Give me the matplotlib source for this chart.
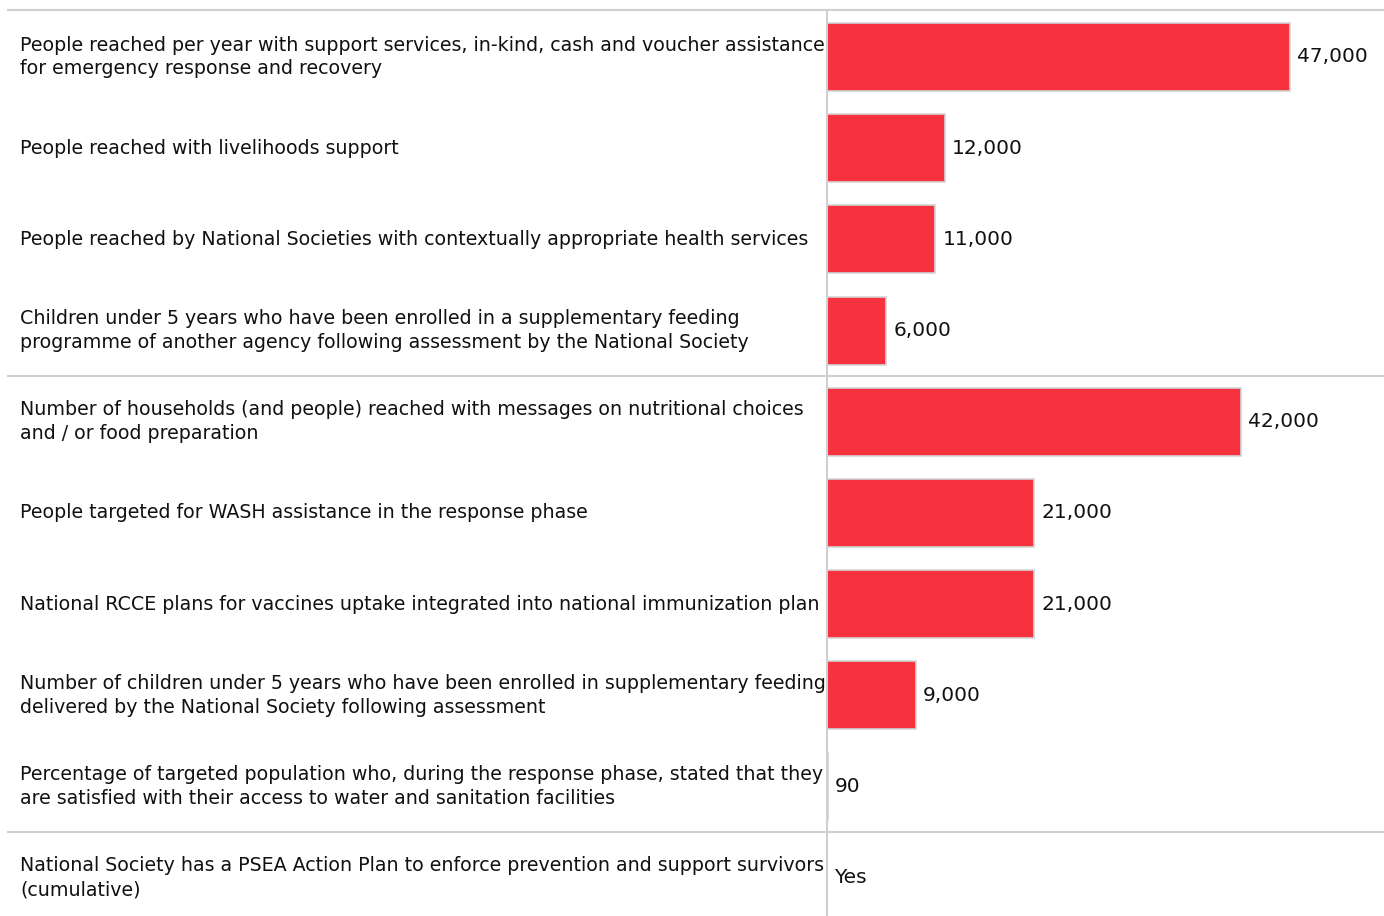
import matplotlib
matplotlib.use("Agg")
import matplotlib.pyplot as plt
import matplotlib.transforms as mtransforms

labels = [
    "People reached per year with support services, in-kind, cash and voucher assistance\nfor emergency response and recovery",
    "People reached with livelihoods support",
    "People reached by National Societies with contextually appropriate health services",
    "Children under 5 years who have been enrolled in a supplementary feeding\nprogramme of another agency following assessment by the National Society",
    "Number of households (and people) reached with messages on nutritional choices\nand / or food preparation",
    "People targeted for WASH assistance in the response phase",
    "National RCCE plans for vaccines uptake integrated into national immunization plan",
    "Number of children under 5 years who have been enrolled in supplementary feeding\ndelivered by the National Society following assessment",
    "Percentage of targeted population who, during the response phase, stated that they\nare satisfied with their access to water and sanitation facilities",
    "National Society has a PSEA Action Plan to enforce prevention and support survivors\n(cumulative)",
]
values = [47000, 12000, 11000, 6000, 42000, 21000, 21000, 9000, 90, 0]
value_text = ["47,000", "12,000", "11,000", "6,000", "42,000", "21,000", "21,000", "9,000", "90", "Yes"]
group_breaks = [3.5, 8.5]

W, H = 1384, 916
fig = plt.figure(figsize=(W / 100, H / 100), dpi=100)
ax = fig.add_axes([827 / W, 0, 1 - 827 / W, (H - 10) / H])

rows = list(range(len(values)))
ax.barh(rows, values, height=0.745, color="#f7323f", edgecolor="#d4d4d4", linewidth=1.2)

ax.set_xlim(0, 56500)
ax.set_ylim(9.42, -0.515)

# value labels just past the bar end
off = mtransforms.offset_copy(ax.transData, fig=fig, x=7, y=0, units="dots")
for r, v, t in zip(rows, values, value_text):
    ax.text(v, r, t, transform=off, ha="left", va="center", fontsize=14.5, color="#111111")

# row labels on the left, in figure x
trans = mtransforms.blended_transform_factory(fig.transFigure, ax.transData)
for r, lab in zip(rows, labels):
    ax.text(20 / W, r, lab, transform=trans, ha="left", va="center", fontsize=13.65,
            color="#111111", linespacing=1.32)

left = (8 - 827) / (W - 827)
for b in group_breaks:
    ax.axhline(b, xmin=left, xmax=1, color="#d0d0d0", lw=1.5, clip_on=False)
ax.axhline(-0.515, xmin=left, xmax=1, color="#d0d0d0", lw=1.5, clip_on=False)

for s in ["top", "right", "bottom"]:
    ax.spines[s].set_visible(False)
ax.spines["left"].set_color("#d0d0d0")
ax.spines["left"].set_linewidth(1.5)
ax.set_xticks([])
ax.set_yticks([])

fig.savefig("out.png", dpi=100)
